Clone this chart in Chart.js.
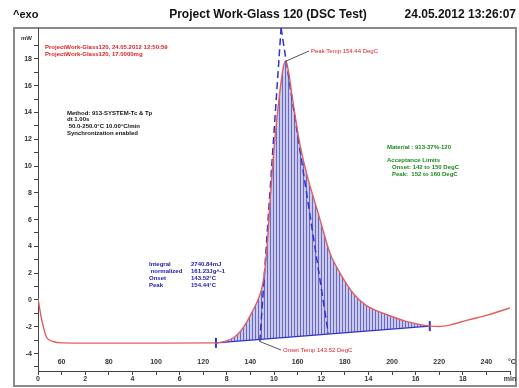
<!DOCTYPE html>
<html>
<head>
<meta charset="utf-8">
<script src="https://cdn.jsdelivr.net/npm/chart.js@4.4.1/dist/chart.umd.min.js"></script>
<style>
  body { margin: 0; background: #fff; }
  canvas { display: block; }
</style>
</head>
<body>
<canvas id="dsc" width="519" height="388"></canvas>
<script>
// measured DSC curve (time in min, heat flow in mW)
const curveTime = [0, 0.16, 0.37, 0.64, 1.0, 3.0, 5.0, 7.54, 8.0, 8.3, 8.6, 8.86, 9.1, 9.32, 9.5, 9.62, 9.72, 9.82, 10.0, 10.2, 10.35, 10.47, 10.6, 10.76, 11.1, 11.45, 11.8, 11.95, 12.37, 12.8, 13.35, 13.9, 14.8, 15.6, 16.6, 17.0, 17.5, 18.2, 19.0, 20.0];
const curveFlow = [0.1, -1.5, -2.8, -3.1, -3.2, -3.22, -3.22, -3.2, -3.05, -2.8, -2.3, -1.6, -0.8, 0, 1.0, 2.4, 4.3, 7.0, 11.3, 14.8, 16.9, 17.8, 17.2, 15.3, 11.6, 9.0, 6.9, 6.0, 3.5, 2.0, 0.5, -0.4, -1.1, -1.6, -1.95, -1.98, -1.85, -1.5, -1.15, -0.6];

// integration baseline limits
const baseTime = [7.54, 16.6];
const baseFlow = [-3.2, -1.95];

// tangent construction (onset / peak)
const tangentLeftTime = [9.4, 10.3];
const tangentLeftFlow = [-3.1, 20.3];
const tangentRightTime = [10.3, 12.3];
const tangentRightFlow = [20.3, -2.5];

const yTickLabels = [-4, -2, 0, 2, 4, 6, 8, 10, 12, 14, 16, 18];
const xTickLabels = [0, 2, 4, 6, 8, 10, 12, 14, 16, 18];
const tempTicks = [60, 80, 100, 120, 140, 160, 180, 200, 220, 240];

const toXY = (xs, ys) => xs.map((x, i) => ({ x: x, y: ys[i] }));

// part of the curve inside the integration limits, used for the hatched area
const peakPart = toXY(curveTime, curveFlow).filter(p => p.x >= baseTime[0] && p.x <= baseTime[1]);

// hatch pattern: thin vertical blue lines
function makeHatch() {
    const c = document.createElement('canvas');
    c.width = 3; c.height = 4;
    const g = c.getContext('2d');
    g.fillStyle = 'rgba(180,180,228,0.7)';
    g.fillRect(0, 0, 3, 4);
    g.fillStyle = 'rgba(80,80,190,0.8)';
    g.fillRect(0, 0, 1, 4);
    return g.createPattern(c, 'repeat');
}

const FONT = '"Liberation Sans", Arial, sans-serif';

const decorations = {
    id: 'decorations',
    beforeDraw(chart) {
        const ctx = chart.ctx;
        ctx.save();
        ctx.fillStyle = '#fff';
        ctx.fillRect(0, 0, chart.width, chart.height);
        ctx.strokeStyle = '#8a8a8a';
        ctx.lineWidth = 2;
        ctx.strokeRect(14, 28, 502, 358);
        ctx.restore();
    },
    afterDraw(chart) {
        const ctx = chart.ctx;
        const xs = chart.scales.x;
        const ys = chart.scales.y;
        ctx.save();

        // header
        ctx.fillStyle = '#111';
        ctx.textBaseline = 'middle';
        ctx.font = 'bold 11px ' + FONT;
        ctx.textAlign = 'left';
        ctx.fillText('^exo', 13, 15);
        ctx.font = 'bold 12px ' + FONT;
        ctx.textAlign = 'center';
        ctx.fillText('Project Work-Glass 120 (DSC Test)', 268, 15);
        ctx.textAlign = 'right';
        ctx.fillText('24.05.2012 13:26:07', 516, 15);

        // axis units and temperature scale
        ctx.font = 'bold 6px ' + FONT;
        ctx.textAlign = 'right';
        ctx.fillStyle = '#333';
        ctx.fillText('mW', 32, 38);
        ctx.font = 'bold 7px ' + FONT;
        ctx.textAlign = 'center';
        tempTicks.forEach(t => {
            ctx.fillText(String(t), xs.getPixelForValue((t - 50) / 10), 362);
        });
        ctx.fillText('°C', xs.getPixelForValue(20) + 2, 362);

        // leader lines
        ctx.strokeStyle = '#555';
        ctx.lineWidth = 1;
        ctx.beginPath();
        ctx.moveTo(xs.getPixelForValue(10.47), ys.getPixelForValue(17.8));
        ctx.lineTo(309, 51);
        ctx.moveTo(xs.getPixelForValue(9.4), ys.getPixelForValue(-3.1));
        ctx.lineTo(281, 350);
        ctx.stroke();

        ctx.font = '6px ' + FONT;
        ctx.textAlign = 'left';
        ctx.fillStyle = '#e02020';
        ctx.fillText('Peak Temp 154.44 DegC', 311, 51);
        ctx.fillText('Onset Temp 143.52 DegC', 283, 350);

        ctx.font = 'bold 6px ' + FONT;
        ctx.fillText('ProjectWork-Glass120, 24.05.2012 12:50:59', 45, 47);
        ctx.fillText('ProjectWork-Glass120, 17.0000mg', 45, 54);

        ctx.fillStyle = '#111';
        ctx.fillText('Method: 913-SYSTEM-Tc & Tp', 67, 113);
        ctx.fillText('dt 1.00s', 67, 119);
        ctx.fillText(' 50.0-250.0°C 10.00°C/min', 67, 126);
        ctx.fillText('Synchronization enabled', 67, 133);

        ctx.fillStyle = '#1a8a1a';
        ctx.fillText('Material : 913-37%-120', 387, 147);
        ctx.fillText('Acceptance Limits', 387, 160);
        ctx.fillText('Onset: 142 to 150 DegC', 392, 167);
        ctx.fillText('Peak:  152 to 160 DegC', 392, 174);

        ctx.fillStyle = '#2020b0';
        ctx.fillText('Integral', 149, 264);
        ctx.fillText(' normalized', 149, 271);
        ctx.fillText('Onset', 149, 278);
        ctx.fillText('Peak', 149, 285);
        ctx.fillText('2740.84mJ', 191, 264);
        ctx.fillText('161.23Jg^-1', 191, 271);
        ctx.fillText('143.52°C', 191, 278);
        ctx.fillText('154.44°C', 191, 285);

        ctx.restore();
    }
};

const ctx = document.getElementById('dsc').getContext('2d');
new Chart(ctx, {
    type: 'scatter',
    data: {
        datasets: [
            {   // 0: baseline
                data: toXY(baseTime, baseFlow),
                showLine: true,
                borderColor: 'rgb(50,50,200)',
                borderWidth: 1.2,
                pointStyle: 'line',
                rotation: 90,
                pointRadius: 5,
                pointBorderColor: 'rgb(50,50,200)',
                pointBorderWidth: 2,
                order: 2
            },
            {   // 1: hatched area between curve and baseline
                data: peakPart,
                showLine: true,
                borderWidth: 0,
                borderColor: 'rgba(0,0,0,0)',
                pointRadius: 0,
                cubicInterpolationMode: 'monotone',
                fill: { target: 0 },
                backgroundColor: makeHatch(),
                order: 4
            },
            {   // 2: tangents
                data: toXY(tangentLeftTime, tangentLeftFlow),
                showLine: true,
                borderColor: 'rgb(50,50,210)',
                borderWidth: 1.5,
                borderDash: [7, 4],
                pointRadius: 0,
                order: 1
            },
            {
                data: toXY(tangentRightTime, tangentRightFlow),
                showLine: true,
                borderColor: 'rgb(50,50,210)',
                borderWidth: 1.5,
                borderDash: [7, 4],
                pointRadius: 0,
                order: 1
            },
            {   // measured curve
                data: toXY(curveTime, curveFlow),
                showLine: true,
                borderColor: 'rgb(225,95,95)',
                borderWidth: 1.4,
                pointRadius: 0,
                cubicInterpolationMode: 'monotone',
                order: 0
            }
        ]
    },
    options: {
        responsive: false,
        animation: false,
        layout: { padding: { left: 0, top: 28, right: 9, bottom: 0 } },
        plugins: { legend: { display: false }, tooltip: { enabled: false } },
        scales: {
            x: {
                type: 'linear',
                min: 0, max: 20,
                afterFit(scale) { scale.height = 17; },
                afterBuildTicks(scale) {
                    const t = [];
                    for (let v = 0; v <= 20; v++) t.push({ value: v });
                    scale.ticks = t;
                },
                ticks: {
                    autoSkip: false,
                    maxRotation: 0,
                    padding: 0,
                    color: '#333',
                    font: { family: FONT, size: 7, weight: 'bold' },
                    callback(v) {
                        if (v === 20) return 'min';
                        return xTickLabels.includes(v) ? String(v) : '';
                    }
                },
                grid: { drawOnChartArea: false, tickLength: 4, color: '#444' },
                border: { color: '#444', width: 1 }
            },
            y: {
                type: 'linear',
                min: -5.3, max: 20.3,
                afterFit(scale) { scale.width = 38; },
                afterBuildTicks(scale) {
                    const t = [];
                    for (let v = -5; v <= 19; v++) t.push({ value: v });
                    scale.ticks = t;
                },
                ticks: {
                    autoSkip: false,
                    padding: 2,
                    color: '#333',
                    font: { family: FONT, size: 7, weight: 'bold' },
                    callback(v) { return yTickLabels.includes(v) ? String(v) : ''; }
                },
                grid: { drawOnChartArea: false, tickLength: 4, color: '#444' },
                border: { color: '#444', width: 1 }
            }
        }
    },
    plugins: [decorations]
});
</script>
</body>
</html>
